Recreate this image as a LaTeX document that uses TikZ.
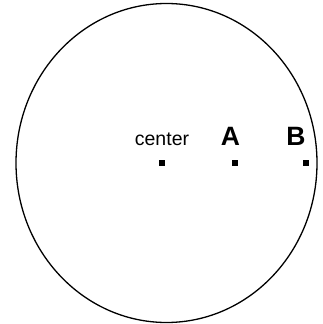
\documentclass[tikz,border=0pt]{standalone}
\usepackage{fontspec}
\setmainfont{Liberation Sans}
\usetikzlibrary{positioning}
\tikzset{
  pt/.style={rectangle,fill=black,minimum size=6.3pt,inner sep=0pt},
  lbl/.style={anchor=base,inner sep=0pt,font=\fontsize{19.5}{19.5}\selectfont},
  blbl/.style={anchor=base,inner sep=0pt,font=\fontsize{26.5}{26.5}\selectfont\bfseries}
}
\begin{document}
\begin{tikzpicture}[x=1pt,y=1pt]
\useasboundingbox (0,0) rectangle (323,324);
\draw[line width=1.3pt] (166.5,161) ellipse [x radius=150.5,y radius=159.5];
\node[pt] (c) at (162.3,160.7) {}; \node[pt] (a) at (235,160.7) {}; \node[pt] (b) at (305.7,160.7) {};
\node[lbl] (lc) at (162,178) {center};
\node[blbl] (la) at (230.5,178) {A}; \node[blbl] (lb) at (296,178) {B};
\end{tikzpicture}
\end{document}
